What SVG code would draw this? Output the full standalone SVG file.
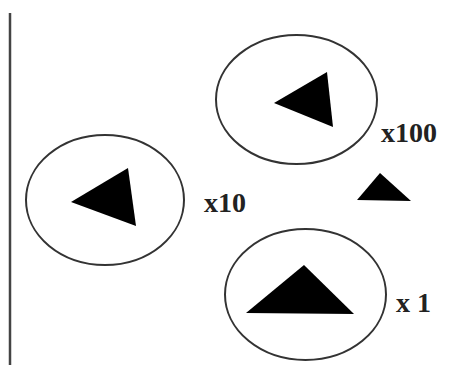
<svg xmlns="http://www.w3.org/2000/svg" width="450" height="365" viewBox="0 0 450 365">
<style>
.cell{fill:none;stroke:#333;stroke-width:2}
.tri{fill:#000}
.lbl{font-family:"Liberation Serif","Times New Roman",serif;font-weight:bold;font-size:28px;fill:#222}
</style>
<rect width="450" height="365" fill="#fff"/>
<line x1="10" y1="13" x2="10" y2="365" stroke="#444" stroke-width="2.5"/>
<g id="cell100">
<ellipse class="cell" cx="296.5" cy="99.5" rx="80.5" ry="64.5"/>
<polygon class="tri" points="274,103 327,72 333,127"/>
<text class="lbl" x="381" y="142">x100</text>
</g>
<g id="cell10">
<ellipse class="cell" cx="105" cy="200" rx="79" ry="65"/>
<polygon class="tri" points="71,202 128,168 136,226"/>
<text class="lbl" x="204" y="212">x10</text>
</g>
<g id="cell1">
<ellipse class="cell" cx="305.5" cy="294.5" rx="80.5" ry="65.5"/>
<polygon class="tri" points="246,313 304,265 354,314"/>
<text class="lbl" x="396" y="312">x 1</text>
</g>
<g id="free">
<polygon class="tri" points="357,200 380,173 411,201"/>
</g>
<g id="connectors"/>
</svg>
